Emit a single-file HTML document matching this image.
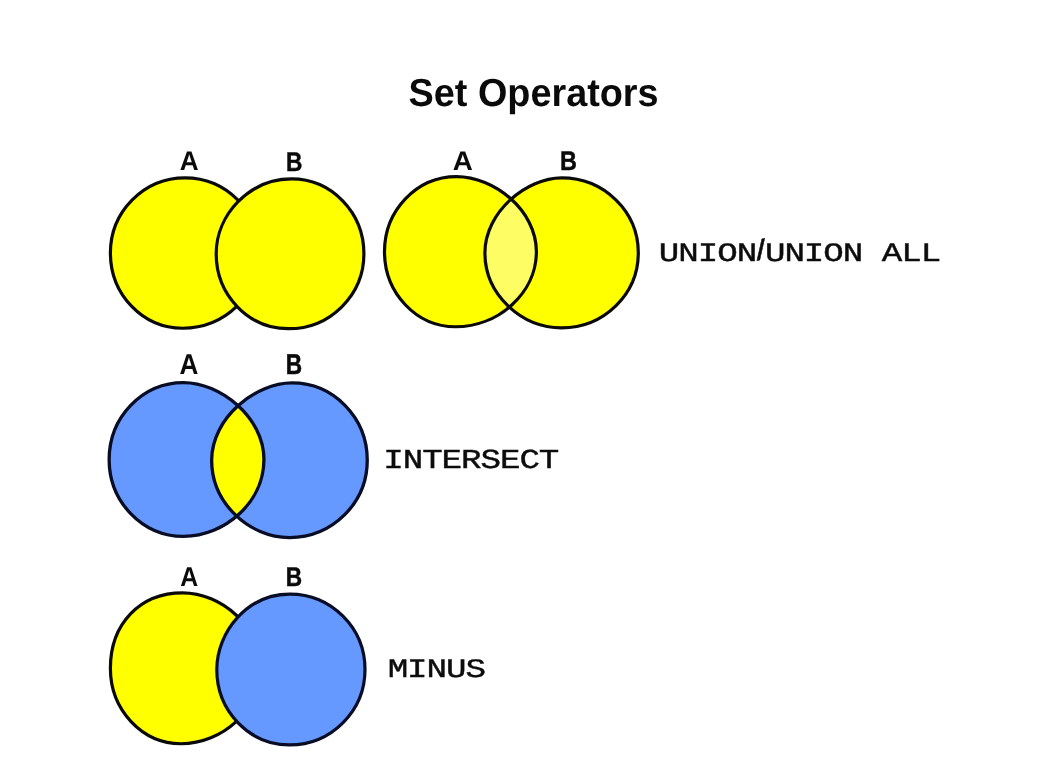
<!DOCTYPE html>
<html lang="en">
<head>
<meta charset="utf-8">
<title>Set Operators</title>
<style>
  html, body { margin: 0; padding: 0; background: #ffffff; }
  body { width: 1063px; height: 778px; overflow: hidden; position: relative; }
  svg { position: absolute; left: 0; top: 0; display: block; will-change: transform; transform: translateZ(0); }
  text { text-rendering: geometricPrecision; }
  .title { font-family: "Liberation Sans", Arial, Helvetica, sans-serif; font-weight: bold; font-size: 37.8px; fill: #0a0a0a; }
  .lbl { font-family: "Liberation Sans", Arial, Helvetica, sans-serif; font-weight: bold; fill: #0a0a0a; }
  .op { font-family: "Liberation Mono", "Courier New", Courier, monospace; fill: #0c0c0c; stroke: #0c0c0c; text-anchor: middle; }
  .ring { fill: none; stroke: #0a0a0a; stroke-width: 3.2; stroke-linejoin: round; }
  .ringb { fill: none; stroke: #080c24; stroke-width: 3.2; stroke-linejoin: round; }
</style>
</head>
<body>
<svg width="1063" height="778" viewBox="0 0 1063 778">
  <rect x="0" y="0" width="1063" height="778" fill="#ffffff"/>
  <defs>
    <clipPath id="clipA2"><path d="M456.50 176.55 C494.05 176.55 536.40 210.17 536.40 251.65 C536.40 293.13 498.38 326.75 455.50 326.75 C416.29 326.75 384.50 293.13 384.50 251.65 C384.50 210.17 416.73 176.55 456.50 176.55 Z"/></clipPath>
    <clipPath id="clipA3"><path d="M183.50 382.55 C219.70 382.55 263.95 416.98 263.95 459.45 C263.95 501.92 225.33 536.35 183.50 536.35 C142.44 536.35 109.15 501.92 109.15 459.45 C109.15 416.98 142.44 382.55 183.50 382.55 Z"/></clipPath>
  </defs>

  <text class="title" transform="translate(408.6 106.35) scale(1 1.035)">Set Operators</text>

  <!-- UNION : A and B, B drawn over A -->
  <g id="union">
    <path d="M185.00 177.80 C226.20 177.80 259.60 211.48 259.60 253.02 C259.60 294.57 225.08 328.25 182.50 328.25 C142.68 328.25 110.40 294.57 110.40 253.02 C110.40 211.48 143.80 177.80 185.00 177.80 Z" fill="#ffff00"/>
    <path class="ring" d="M185.00 177.80 C226.20 177.80 259.60 211.48 259.60 253.02 C259.60 294.57 225.08 328.25 182.50 328.25 C142.68 328.25 110.40 294.57 110.40 253.02 C110.40 211.48 143.80 177.80 185.00 177.80 Z"/>
    <path d="M291.50 178.90 C331.49 178.90 363.90 212.43 363.90 253.80 C363.90 295.17 330.14 328.70 288.50 328.70 C248.57 328.70 216.20 295.17 216.20 253.80 C216.20 214.85 249.33 178.90 291.50 178.90 Z" fill="#ffff00"/>
    <path class="ring" d="M291.50 178.90 C331.49 178.90 363.90 212.43 363.90 253.80 C363.90 295.17 330.14 328.70 288.50 328.70 C248.57 328.70 216.20 295.17 216.20 253.80 C216.20 214.85 249.33 178.90 291.50 178.90 Z"/>
    <text class="lbl" transform="translate(179.65 169.96) scale(1.0073 1.0387)" font-size="26.0">A</text>
    <text class="lbl" transform="translate(285.98 170.85) scale(0.8721 1.0359)" font-size="26.0" stroke="#0a0a0a" stroke-width="0.50">B</text>
  </g>

  <!-- UNION ALL : overlap highlighted -->
  <g id="union-all">
    <path d="M456.50 176.55 C494.05 176.55 536.40 210.17 536.40 251.65 C536.40 293.13 498.38 326.75 455.50 326.75 C416.29 326.75 384.50 293.13 384.50 251.65 C384.50 210.17 416.73 176.55 456.50 176.55 Z" fill="#ffff00"/>
    <path d="M561.60 177.90 C603.96 177.90 638.30 211.46 638.30 252.85 C638.30 294.24 603.96 327.80 561.60 327.80 C520.95 327.80 484.90 294.24 484.90 252.85 C484.90 211.46 527.09 177.90 561.60 177.90 Z" fill="#ffff00"/>
    <path d="M561.60 177.90 C603.96 177.90 638.30 211.46 638.30 252.85 C638.30 294.24 603.96 327.80 561.60 327.80 C520.95 327.80 484.90 294.24 484.90 252.85 C484.90 211.46 527.09 177.90 561.60 177.90 Z" fill="#fefe64" clip-path="url(#clipA2)"/>
    <path class="ring" d="M456.50 176.55 C494.05 176.55 536.40 210.17 536.40 251.65 C536.40 293.13 498.38 326.75 455.50 326.75 C416.29 326.75 384.50 293.13 384.50 251.65 C384.50 210.17 416.73 176.55 456.50 176.55 Z"/>
    <path class="ring" d="M561.60 177.90 C603.96 177.90 638.30 211.46 638.30 252.85 C638.30 294.24 603.96 327.80 561.60 327.80 C520.95 327.80 484.90 294.24 484.90 252.85 C484.90 211.46 527.09 177.90 561.60 177.90 Z"/>
    <text class="lbl" transform="translate(452.71 169.96) scale(1.0663 1.0376)" font-size="26.0">A</text>
    <text class="lbl" transform="translate(560.03 169.85) scale(0.9005 1.0325)" font-size="26.0" stroke="#0a0a0a" stroke-width="0.50">B</text>
  </g>
  <text class="op" transform="translate(0 260.65) scale(1.2800 1.0000)" font-size="26.70" stroke-width="0.42" x="522.73 537.93 553.12 568.32 583.52 594.84 605.62 620.82 636.02 651.21 666.41 681.56 696.88 712.07 727.27" y="0">UNION<tspan x="597.81" y="0.45" font-size="26.50" rotate="-18.5">/</tspan><tspan y="0">UNION ALL</tspan></text>

  <!-- INTERSECT -->
  <g id="intersect">
    <path d="M183.50 382.55 C219.70 382.55 263.95 416.98 263.95 459.45 C263.95 501.92 225.33 536.35 183.50 536.35 C142.44 536.35 109.15 501.92 109.15 459.45 C109.15 416.98 142.44 382.55 183.50 382.55 Z" fill="#6699ff"/>
    <path d="M292.00 382.95 C333.56 382.95 367.25 417.56 367.25 460.25 C367.25 502.94 332.42 537.55 289.45 537.55 C248.99 537.55 211.65 502.94 211.65 460.25 C211.65 417.56 255.84 382.95 292.00 382.95 Z" fill="#6699ff"/>
    <path d="M292.00 382.95 C333.56 382.95 367.25 417.56 367.25 460.25 C367.25 502.94 332.42 537.55 289.45 537.55 C248.99 537.55 211.65 502.94 211.65 460.25 C211.65 417.56 255.84 382.95 292.00 382.95 Z" fill="#ffff00" clip-path="url(#clipA3)"/>
    <path class="ringb" d="M183.50 382.55 C219.70 382.55 263.95 416.98 263.95 459.45 C263.95 501.92 225.33 536.35 183.50 536.35 C142.44 536.35 109.15 501.92 109.15 459.45 C109.15 416.98 142.44 382.55 183.50 382.55 Z" style="stroke-width:3.3"/>
    <path class="ringb" d="M292.00 382.95 C333.56 382.95 367.25 417.56 367.25 460.25 C367.25 502.94 332.42 537.55 289.45 537.55 C248.99 537.55 211.65 502.94 211.65 460.25 C211.65 417.56 255.84 382.95 292.00 382.95 Z" style="stroke-width:3.3"/>
    <text class="lbl" transform="translate(179.50 373.96) scale(1.0038 1.1019)" font-size="26.0">A</text>
    <text class="lbl" transform="translate(285.82 373.96) scale(0.8715 1.1019)" font-size="26.0" stroke="#0a0a0a" stroke-width="0.50">B</text>
  </g>
  <text class="op" transform="translate(0 467.50) scale(1.2430 1.0000)" font-size="27.50" stroke-width="0.42" x="316.57 332.22 347.87 363.52 379.16 394.81 410.46 426.11 441.75" y="0">INTERSECT</text>

  <!-- MINUS -->
  <g id="minus">
    <path d="M182.50 592.90 C221.45 592.90 260.40 626.67 260.40 668.33 C260.40 709.98 222.29 743.75 181.00 743.75 C142.01 743.75 110.40 709.98 110.40 668.33 C110.40 623.82 139.96 592.90 182.50 592.90 Z" fill="#ffff00"/>
    <path class="ring" d="M182.50 592.90 C221.45 592.90 260.40 626.67 260.40 668.33 C260.40 709.98 222.29 743.75 181.00 743.75 C142.01 743.75 110.40 709.98 110.40 668.33 C110.40 623.82 139.96 592.90 182.50 592.90 Z"/>
    <path d="M289.80 594.05 C331.33 594.05 365.00 627.82 365.00 669.48 C365.00 711.13 331.20 744.90 289.50 744.90 C249.35 744.90 216.80 711.13 216.80 669.48 C216.80 631.76 247.46 594.05 289.80 594.05 Z" fill="#6699ff"/>
    <path class="ringb" d="M289.80 594.05 C331.33 594.05 365.00 627.82 365.00 669.48 C365.00 711.13 331.20 744.90 289.50 744.90 C249.35 744.90 216.80 711.13 216.80 669.48 C216.80 631.76 247.46 594.05 289.80 594.05 Z"/>
    <text class="lbl" transform="translate(180.27 586.19) scale(0.9551 1.0549)" font-size="26.0">A</text>
    <text class="lbl" transform="translate(285.82 585.96) scale(0.8715 1.0353)" font-size="26.0" stroke="#0a0a0a" stroke-width="0.50">B</text>
  </g>
  <text class="op" transform="translate(0 676.80) scale(1.2800 1.0000)" font-size="26.70" stroke-width="0.42" x="310.86 326.05 341.25 356.45 371.64" y="0">MINUS</text>
</svg>
</body>
</html>
